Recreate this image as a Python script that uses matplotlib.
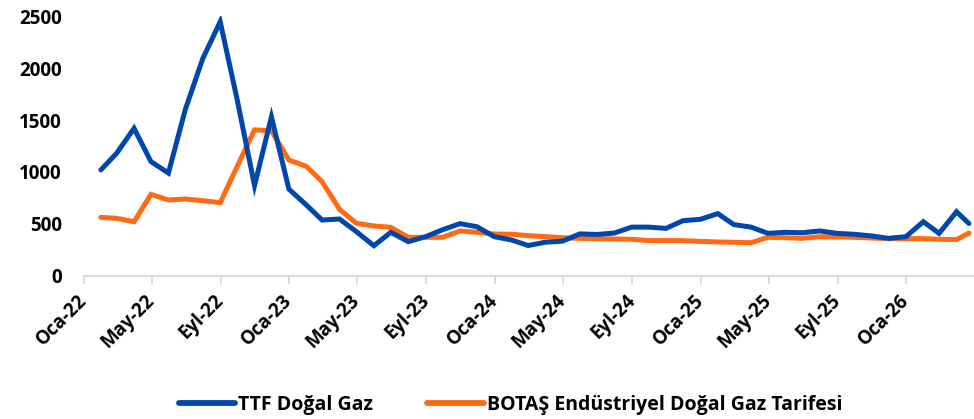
import matplotlib
matplotlib.use("Agg")
import matplotlib.pyplot as plt
import matplotlib.dates as mdates
from matplotlib.ticker import FuncFormatter, FixedLocator
import pandas as pd

# Month-end observations, last one is a partial month
dates = list(pd.date_range("2022-01-31", "2026-03-31", freq="ME")) + [pd.Timestamp("2026-04-22")]

ttf = [1020, 1180, 1420, 1100, 990, 1600, 2090, 2445, 1700, 870,
       1530, 836, 683, 538, 548, 426, 291, 420, 330, 378,
       445, 503, 474, 378, 346, 293, 325, 335, 405, 399,
       413, 470, 470, 458, 532, 545, 600, 495, 470, 410,
       420, 416, 433, 410, 401, 385, 362, 378, 522, 410,
       618, 505]

botas = [564, 555, 522, 785, 731, 740, 724, 705, 1051, 1405,
         1397, 1115, 1055, 907, 641, 507, 481, 468, 372, 372,
         372, 433, 420, 404, 401, 388, 378, 368, 362, 359,
         356, 353, 340, 340, 340, 333, 327, 324, 320, 372,
         368, 362, 378, 375, 372, 365, 359, 359, 359, 353,
         350, 413]

series_names = ["TTF Doğal Gaz", "BOTAŞ Endüstriyel Doğal Gaz Tarifesi"]
month_abbr = ["Oca", "Şub", "Mar", "Nis", "May", "Haz",
              "Tem", "Ağu", "Eyl", "Eki", "Kas", "Ara"]
tick_dates = list(pd.date_range("2022-01-01", "2026-01-01", freq="4MS"))
y_ticks = [0, 500, 1000, 1500, 2000, 2500]

BLUE = "#0047AB"
ORANGE = "#FF6A13"
FONT = ["Open Sans", "DejaVu Sans"]

plt.rcParams["font.family"] = FONT
plt.rcParams["font.weight"] = "bold"

fig = plt.figure(figsize=(9.74, 4.19), dpi=100)
ax = fig.add_axes([0.0862, 0.3413, 0.9138, 0.6205])

ax.plot(dates, ttf, color=BLUE, lw=3.6, solid_joinstyle="miter",
        solid_capstyle="round", label=series_names[0], zorder=3)
ax.plot(dates, botas, color=ORANGE, lw=3.6, solid_joinstyle="miter",
        solid_capstyle="round", label=series_names[1], zorder=2)

ax.set_xlim(pd.Timestamp("2022-01-01"), pd.Timestamp("2026-05-01"))
ax.set_ylim(0, 2500)

ax.xaxis.set_major_locator(FixedLocator(mdates.date2num(tick_dates)))
ax.xaxis.set_major_formatter(FuncFormatter(
    lambda v, _: "{}-{:02d}".format(month_abbr[mdates.num2date(v).month - 1],
                                    mdates.num2date(v).year % 100)))
ax.set_yticks(y_ticks)

for s in ["top", "right", "left"]:
    ax.spines[s].set_visible(False)
ax.spines["bottom"].set_color("#D9D9D9")
ax.spines["bottom"].set_linewidth(1.3)

ax.tick_params(axis="x", direction="out", length=5.5, width=1.3,
               color="#D9D9D9", pad=10, labelsize=13.5)
ax.tick_params(axis="y", length=0, pad=16, labelsize=13.5)
for lab in ax.get_xticklabels():
    lab.set_rotation(45)
    lab.set_ha("right")
    lab.set_va("center")
    lab.set_rotation_mode("anchor")
    lab.set_fontweight("bold")
for lab in ax.get_yticklabels():
    lab.set_fontweight("bold")

leg = fig.legend(loc="center", bbox_to_anchor=(0.524, 0.033), ncol=2,
                 frameon=False, prop={"family": FONT, "weight": "bold", "size": 14},
                 handlelength=2.9, handletextpad=0.15, columnspacing=2.8,
                 borderpad=0)
for h in leg.get_lines():
    h.set_linewidth(4.2)

fig.savefig("out.png", dpi=100, facecolor="white")
